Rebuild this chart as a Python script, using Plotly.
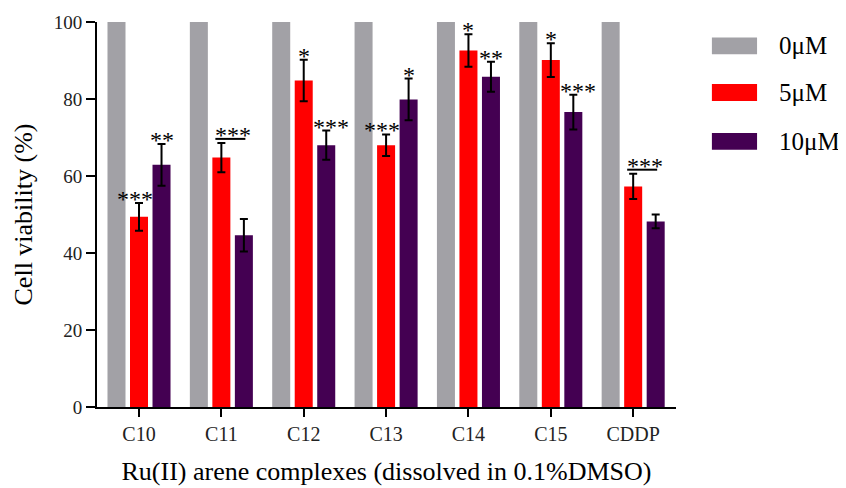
import plotly.graph_objects as go

categories = ["C10", "C11", "C12", "C13", "C14", "C15", "CDDP"]
series_names = ["0μM", "5μM", "10μM"]
v0 = [100, 100, 100, 100, 100, 100, 100]
v5 = [49.4, 64.8, 84.8, 68.0, 92.6, 90.1, 57.3]
e5 = [3.6, 3.8, 5.4, 2.8, 4.2, 4.4, 3.3]
v10 = [62.9, 44.6, 68.0, 79.9, 85.8, 76.6, 48.2]
e10 = [5.4, 4.2, 3.8, 5.4, 3.9, 4.5, 1.8]
sig5 = ["***", "***", "*", "***", "*", "*", "***"]
sig10 = ["**", "", "***", "*", "**", "***", ""]
sig_line5 = [False, True, False, False, False, False, True]
colors = ["#a2a1a6", "#ff0000", "#440052"]

FONT = "Liberation Serif, Times New Roman, serif"

fig = go.Figure()
err_style = dict(type="data", color="black", thickness=2, width=4, visible=True)
fig.add_trace(go.Bar(x=categories, y=v0, name=series_names[0], marker_color=colors[0],
                     marker_line_width=0))
fig.add_trace(go.Bar(x=categories, y=v5, name=series_names[1], marker_color=colors[1],
                     marker_line_width=0, error_y=dict(array=e5, **err_style)))
fig.add_trace(go.Bar(x=categories, y=v10, name=series_names[2], marker_color=colors[2],
                     marker_line_width=0, error_y=dict(array=e10, **err_style)))

annotations = []
shapes = []
slot_px = 22.5
STAR = 24
for i, c in enumerate(categories):
    if sig5[i]:
        extra = 4 if sig_line5[i] else 0
        dx = 12 if sig_line5[i] else (-4 if sig5[i] == "***" else 0)
        annotations.append(dict(x=c, y=v5[i] + e5[i], xref="x", yref="y", text=sig5[i],
                                showarrow=False, yanchor="middle", xanchor="center",
                                xshift=dx, yshift=4 + extra,
                                font=dict(family=FONT, size=STAR, color="black")))
        if sig_line5[i]:
            shapes.append(dict(type="line", xref="x", yref="y",
                               xsizemode="pixel", ysizemode="pixel",
                               xanchor=i, yanchor=v5[i] + e5[i],
                               x0=-6, x1=24, y0=4, y1=4,
                               line=dict(color="black", width=2)))
    if sig10[i]:
        dx = slot_px + (5 if sig10[i] == "***" else 0)
        annotations.append(dict(x=c, y=v10[i] + e10[i], xref="x", yref="y", text=sig10[i],
                                showarrow=False, yanchor="middle", xanchor="center",
                                xshift=dx, yshift=4,
                                font=dict(family=FONT, size=STAR, color="black")))

# custom legend (paper coords relative to plot area)
leg_y = [0.938, 0.817, 0.690]
for name, col, ly in zip(series_names, colors, leg_y):
    shapes.append(dict(type="rect", xref="paper", yref="paper",
                       x0=1.062, x1=1.140, y0=ly - 0.022, y1=ly + 0.022,
                       fillcolor=col, line_width=0))
    annotations.append(dict(x=1.174, y=ly, xref="paper", yref="paper", text=name,
                            showarrow=False, xanchor="left", yanchor="middle",
                            font=dict(family=FONT, size=25, color="black")))

# page body has an 8px margin: figure is 838x480 drawn at (8,8)
fig.update_layout(
    width=838, height=480,
    margin=dict(l=89, r=170, t=14, b=81),
    plot_bgcolor="white", paper_bgcolor="white",
    barmode="group", bargap=0.18, bargroupgap=0.2,
    showlegend=False,
    font=dict(family=FONT, color="black"),
    annotations=annotations, shapes=shapes,
    xaxis=dict(range=[-0.51, 6.52], showline=True, linecolor="black", linewidth=2,
               ticks="outside", ticklen=8, tickwidth=2, tickcolor="black",
               tickfont=dict(family=FONT, size=20, color="#222"),
               title=dict(text="Ru(II) arene complexes (dissolved in 0.1%DMSO)",
                          font=dict(family=FONT, size=26, color="black"), standoff=18),
               showgrid=False, zeroline=False, automargin=False),
    yaxis=dict(range=[0, 100], tickvals=[0, 20, 40, 60, 80, 100],
               showline=True, linecolor="black", linewidth=2,
               ticks="outside", ticklen=9, tickwidth=2, tickcolor="black",
               tickfont=dict(family=FONT, size=19, color="#222"),
               title=dict(text="Cell viability (%)",
                          font=dict(family=FONT, size=26, color="black"), standoff=14),
               showgrid=False, zeroline=False, automargin=False),
)

fig.write_html("out.html")
